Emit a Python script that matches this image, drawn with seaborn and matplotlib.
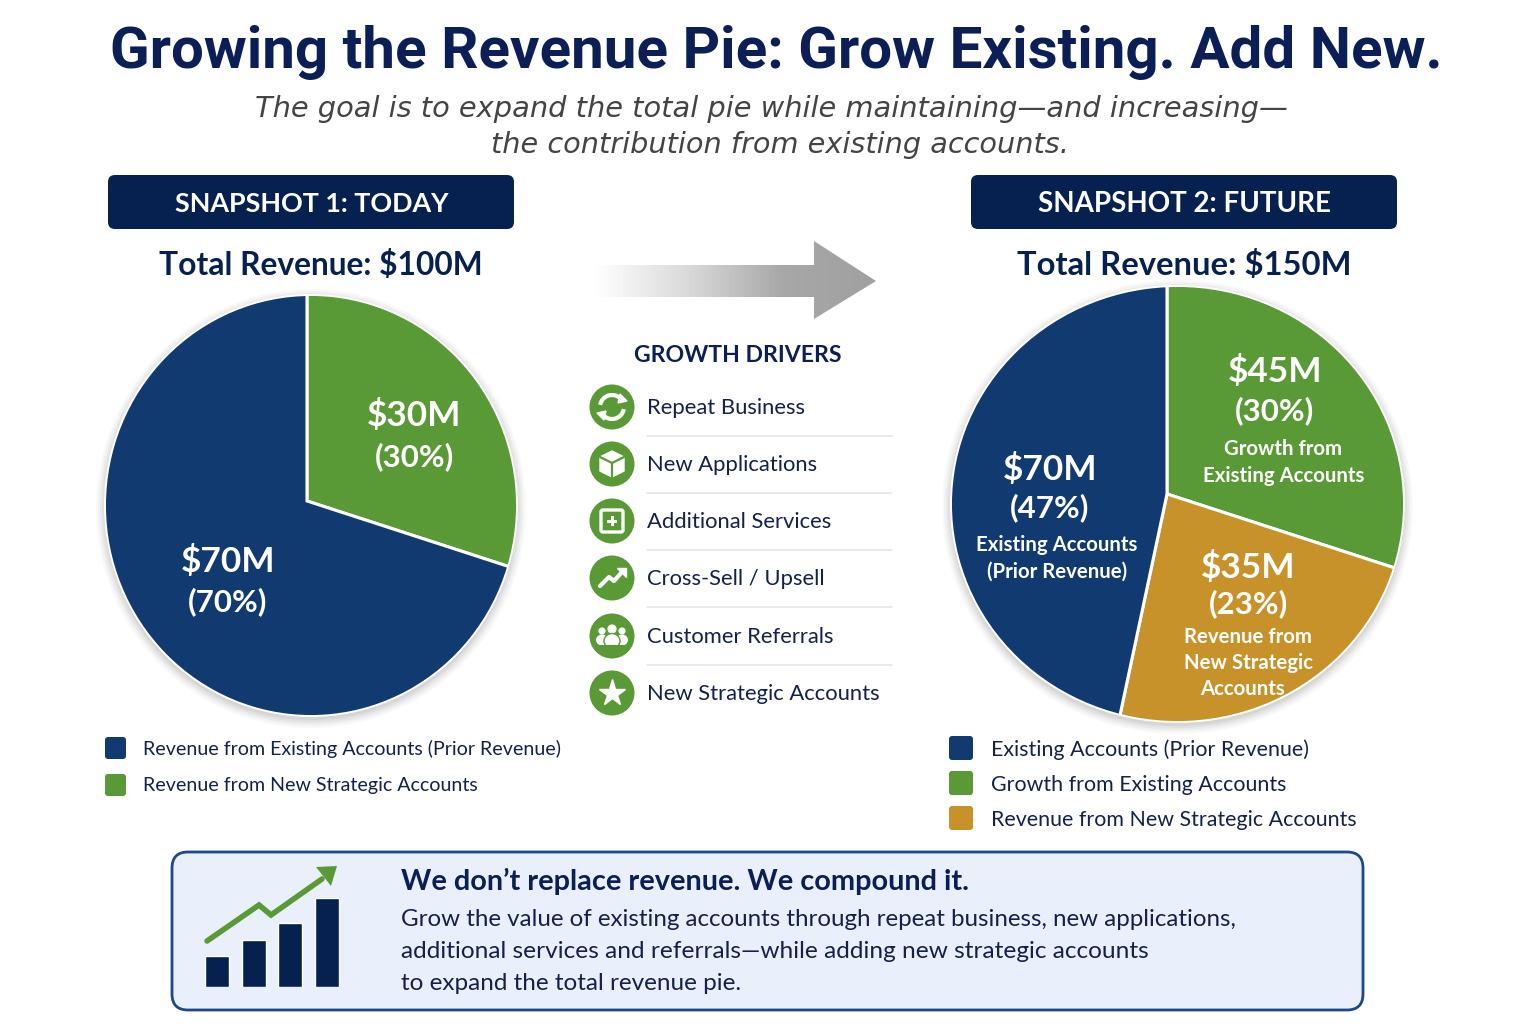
import numpy as np
import matplotlib
matplotlib.use("Agg")
import matplotlib.pyplot as plt
import seaborn as sns
from matplotlib.patches import FancyBboxPatch, Circle, Ellipse, Polygon, Arc, Rectangle
from matplotlib.colors import LinearSegmentedColormap

# ---------------------------
# Data
# ---------------------------
today_values = [30, 70]
future_values = [45, 35, 70]
today_legend = ["Revenue from Existing Accounts (Prior Revenue)", "Revenue from New Strategic Accounts"]
future_legend = ["Existing Accounts (Prior Revenue)", "Growth from Existing Accounts", "Revenue from New Strategic Accounts"]
drivers = ["Repeat Business", "New Applications", "Additional Services",
           "Cross-Sell / Upsell", "Customer Referrals", "New Strategic Accounts"]
bar_cats = ["a", "b", "c", "d"]
bar_heights = [31, 47, 64, 89]

NAVY = "#0b1f56"
BANNER = "#06204f"
BLUE = "#113a70"
GREEN = "#5a9a36"
GOLD = "#c8922a"
TEXT = "#14204f"
BODY = "Lato"

sns.set_theme(style="white")
plt.rcParams["font.family"] = [BODY, "DejaVu Sans"]

W, H = 1536, 1024
fig = plt.figure(figsize=(W / 100, H / 100), dpi=100, facecolor="white")


def px_axes(x0, y0, x1, y1, z):
    # axes placed by pixel box, y measured from the top
    return fig.add_axes([x0 / W, 1 - y1 / H, (x1 - x0) / W, (y1 - y0) / H], zorder=z)


# background layer, shadows and callout box
bg = px_axes(0, 0, W, H, 0)
bg.set_xlim(0, W)
bg.set_ylim(H, 0)
bg.axis("off")

for cx, cy, rx, ry in [(311, 505.5, 206, 210.5), (1177.5, 504, 226.5, 218)]:
    for grow, alpha in zip([9, 7, 5, 3, 1], [0.03, 0.04, 0.05, 0.06, 0.08]):
        bg.add_patch(Ellipse((cx, cy + 3), 2 * (rx + grow), 2 * (ry + grow), fc="#555555", ec="none", alpha=alpha))

bg.add_patch(FancyBboxPatch((172, 852), 1191, 158, boxstyle="round,pad=0,rounding_size=16",
                            fc="#eaf0fb", ec="#1b4a8c", lw=2))

# arrow with gradient
arrow = Polygon([(595, 265), (814, 265), (814, 241), (876, 281), (814, 319), (814, 297), (595, 297)],
                closed=True, fc="none", ec="none", transform=bg.transData)
bg.add_patch(arrow)
grad = LinearSegmentedColormap.from_list("arrow", ["#ffffff", "#d9d9d9", "#a8a8a8", "#a0a0a0"])
img = bg.imshow(np.linspace(0, 1, 256).reshape(1, -1), extent=(595, 876, 319, 241), cmap=grad, aspect="auto", zorder=1)
img.set_clip_path(arrow)
bg.set_xlim(0, W)
bg.set_ylim(H, 0)


# ---------------------------
# Pies
# ---------------------------
def draw_pie(box, apex, values, colors):
    # the picture's wedges meet off-centre, so draw a big pie at the apex and clip it to the outline
    x0, y0, x1, y1 = box
    ax = px_axes(x0 - 4, y0 - 4, x1 + 4, y1 + 4, 1)
    wedges, _ = ax.pie(values, colors=colors, startangle=90, counterclock=False, radius=320,
                       center=(apex[0], -apex[1]), wedgeprops={"edgecolor": "white", "linewidth": 2.2})
    ax.set_aspect("auto")
    ax.set_xlim(x0 - 4, x1 + 4)
    ax.set_ylim(-(y1 + 4), -(y0 - 4))
    ax.patch.set_alpha(0)
    rim = Ellipse(((x0 + x1) / 2, -(y0 + y1) / 2), x1 - x0, y1 - y0, fc="none", ec="white", lw=1.4, zorder=5)
    ax.add_patch(rim)
    for w in wedges:
        w.set_clip_on(True)
        w.set_clip_path(rim)
    return ax


draw_pie((105, 295, 517, 716), (307, 501), today_values, [GREEN, BLUE])
draw_pie((951, 286, 1404, 722), (1167, 494), future_values, [GREEN, GOLD, BLUE])

# small bar chart in the callout
bar_ax = px_axes(199, 898, 345, 987, 1)
sns.barplot(x=bar_cats, y=bar_heights, color=BANNER, width=0.66, saturation=1, ax=bar_ax)
bar_ax.set_ylim(0, 89)
bar_ax.set_xlim(-0.5, 3.5)
bar_ax.axis("off")

# ---------------------------
# Text and icons on top
# ---------------------------
ov = px_axes(0, 0, W, H, 2)
ov.set_xlim(0, W)
ov.set_ylim(H, 0)
ov.axis("off")


def label(x, y, s, size, color=TEXT, weight="normal", ha="center", **kw):
    ov.text(x, y + 4, s, fontsize=size, color=color, fontweight=weight, ha=ha, va="center", **kw)


ov.text(776, 52, "Growing the Revenue Pie: Grow Existing. Add New.", fontsize=42, fontweight="bold",
        color=NAVY, ha="center", va="center", family="Roboto")
ov.text(771, 109, "The goal is to expand the total pie while maintaining\u2014and increasing\u2014", fontsize=20.8,
        style="italic", color="#444444", ha="center", va="center", family="DejaVu Sans")
ov.text(780, 145, "the contribution from existing accounts.", fontsize=20.7,
        style="italic", color="#444444", ha="center", va="center", family="DejaVu Sans")

for x0, x1, s, fs in [(108, 514, "SNAPSHOT 1: TODAY", 19.4), (971, 1397, "SNAPSHOT 2: FUTURE", 20)]:
    ov.add_patch(FancyBboxPatch((x0, 175), x1 - x0, 54, boxstyle="round,pad=0,rounding_size=7", fc=BANNER, ec="none"))
    label((x0 + x1) / 2 + 1, 200, s, fs, "white", "bold")

label(321, 261, "Total Revenue: $100M", 22.9, BANNER, "bold")
label(1184, 261, "Total Revenue: $150M", 23.6, BANNER, "bold")

# pie labels
label(414, 412, "$30M", 25.4, "white", "bold")
label(414, 453, "(30%)", 22.5, "white", "bold")
label(228, 558, "$70M", 25.4, "white", "bold")
label(228, 598, "(70%)", 22.5, "white", "bold")

label(1275, 368, "$45M", 25.4, "white", "bold")
label(1275, 407, "(30%)", 22.5, "white", "bold")
label(1283, 445, "Growth from", 14.7, "white", "bold")
label(1284, 472, "Existing Accounts", 14.7, "white", "bold")

label(1050, 465, "$70M", 25.4, "white", "bold")
label(1050, 504, "(47%)", 22.5, "white", "bold")
label(1057, 541, "Existing Accounts", 14.7, "white", "bold")
label(1057, 568, "(Prior Revenue)", 14.7, "white", "bold")

label(1248, 563, "$35M", 25.4, "white", "bold")
label(1248, 600, "(23%)", 22.5, "white", "bold")
label(1248, 633, "Revenue from", 14.7, "white", "bold")
label(1248, 659, "New Strategic", 14.7, "white", "bold")
label(1242, 685, "Accounts", 14.7, "white", "bold")

# legends
for y, s, c in zip([748, 785], today_legend, [BLUE, GREEN]):
    ov.add_patch(FancyBboxPatch((105, y - 11), 21, 22, boxstyle="round,pad=0,rounding_size=3", fc=c, ec="none"))
    label(143, y - 3, s, 14.1, ha="left")
for y, s, c in zip([748, 783, 818], future_legend, [BLUE, GREEN, GOLD]):
    ov.add_patch(FancyBboxPatch((949, y - 12), 24, 24, boxstyle="round,pad=0,rounding_size=3", fc=c, ec="none"))
    label(991, y - 2, s, 15.4, ha="left")

# growth drivers
label(738, 351, "GROWTH DRIVERS", 16.6, NAVY, "bold")
ys = [407, 464, 521, 578, 636, 693]
for i, (y, s) in enumerate(zip(ys, drivers)):
    ov.add_patch(Circle((612, y), 22.5, fc=GREEN, ec="none"))
    label(647, y - 3, s, 15.8, ha="left")
    if i < 5:
        ov.plot([647, 892], [y + 28.5, y + 28.5], color="#e4e6ea", lw=1.2)

wkw = dict(color="white", solid_capstyle="round", solid_joinstyle="round")
# repeat icon
y = ys[0]
ov.add_patch(Arc((612, y), 24, 24, theta1=190, theta2=320, ec="white", lw=3))
ov.add_patch(Arc((612, y), 24, 24, theta1=10, theta2=140, ec="white", lw=3))
ov.add_patch(Polygon([(620, y - 13), (627, y - 6), (618, y - 4)], fc="white"))
ov.add_patch(Polygon([(604, y + 13), (597, y + 6), (606, y + 4)], fc="white"))
# box icon
y = ys[1]
ov.add_patch(Polygon([(612, y - 13), (624, y - 7), (624, y + 7), (612, y + 13), (600, y + 7), (600, y - 7)], fc="white"))
ov.plot([600, 612, 624], [y - 7, y - 1, y - 7], color=GREEN, lw=1.6)
ov.plot([612, 612], [y - 1, y + 13], color=GREEN, lw=1.6)
# plus icon
y = ys[2]
ov.add_patch(FancyBboxPatch((601, y - 11), 22, 22, boxstyle="round,pad=0,rounding_size=2", fc="none", ec="white", lw=2.4))
ov.add_patch(Rectangle((607, y - 1.5), 10, 3, fc="white", ec="none"))
ov.add_patch(Rectangle((610.5, y - 5), 3, 10, fc="white", ec="none"))
# trend icon
y = ys[3]
ov.plot([600, 609, 614, 622], [y + 8, y - 1, y + 3, y - 6], lw=3, **wkw)
ov.add_patch(Polygon([(617, y - 10), (626, y - 10), (626, y - 1)], fc="white", ec="white"))
# people icon
y = ys[4]
for dx, dy, r in [(-10, -5, 3.6), (10, -5, 3.6), (0, -7, 4.6)]:
    ov.add_patch(Circle((612 + dx, y + dy), r, fc="white", ec="none"))
ov.add_patch(Ellipse((602, y + 4), 12, 11, fc="white", ec="none"))
ov.add_patch(Ellipse((622, y + 4), 12, 11, fc="white", ec="none"))
ov.add_patch(Ellipse((612, y + 5), 16, 15, fc="white", ec=GREEN, lw=1))
ov.add_patch(Rectangle((595, y + 9), 34, 6, fc=GREEN, ec="none", zorder=3))
# star icon
ov.plot([612], [ys[5]], marker="*", ms=20, color="white", mec="white")

# callout
ov.plot([207, 259, 271, 322], [941, 905, 915, 879], color=GREEN, lw=4, solid_joinstyle="miter")
ov.add_patch(Polygon([(316, 867), (337, 866), (331, 886)], fc=GREEN, ec="none"))
label(401, 877, "We don\u2019t replace revenue. We compound it.", 20.8, NAVY, "bold", ha="left")
label(401, 916, "Grow the value of existing accounts through repeat business, new applications,", 17.4, ha="left")
label(401, 948, "additional services and referrals\u2014while adding new strategic accounts", 17.6, ha="left")
label(401, 980, "to expand the total revenue pie.", 17.5, ha="left")

fig.savefig("out.png", dpi=100, facecolor="white")
